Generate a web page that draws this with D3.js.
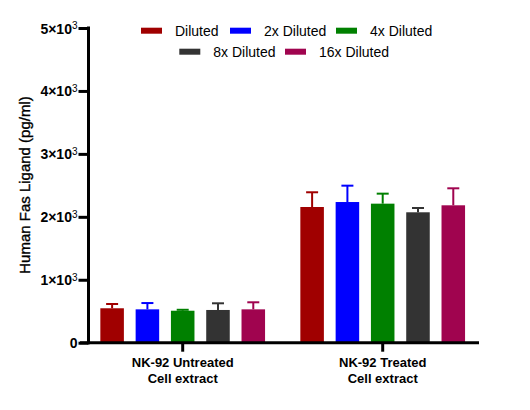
<!DOCTYPE html>
<html lang="en">
<head>
  <meta charset="UTF-8">
  <title>Human Fas Ligand</title>
  <style>
    * { padding: 0; margin: 0; }
    html, body { width: 530px; height: 410px; overflow: hidden; background: #fff; }
    text { font-family: "Liberation Sans", Arial, sans-serif; }
  </style>
</head>
<body>
  <script src="https://cdn.jsdelivr.net/npm/d3@7/dist/d3.min.js"></script>
  <script>
    // data
    const groups = ['NK-92 Untreated|Cell extract', 'NK-92 Treated|Cell extract']
    const series = ['Diluted', '2x Diluted', '4x Diluted', '8x Diluted', '16x Diluted']
    const colors = ['#a00000', '#0000ff', '#008000', '#333333', '#a0044f']
    const means = [
      [547, 530, 508, 520, 530],
      [2156, 2235, 2209, 2072, 2183]
    ]
    const errors = [
      [68, 100, 15, 106, 112],
      [234, 260, 159, 68, 270]
    ]
    const yTicks = [0, 1000, 2000, 3000, 4000, 5000]

    const svg = d3.select('body').append('svg').attr('width', 530).attr('height', 410)

    const y = d3.scaleLinear().domain([0, 5000]).range([342.7, 28])
    const x0 = d3.scaleBand().domain(groups).range([82.7, 482.7])
    const x1 = d3.scaleBand().domain(series).range([0, 176.5]).paddingInner(0.333).paddingOuter(0.167)
    const color = d3.scaleOrdinal().domain(series).range(colors)

    // bars
    const g = svg.append('g')
    groups.forEach((grp, gi) => {
      const left = x0(grp) + x0.bandwidth() / 2 - 88.25
      const bars = series.map((s, si) => ({ s, v: means[gi][si], e: errors[gi][si] }))
      const cell = g.append('g').attr('transform', `translate(${left},0)`)
      // error bars (upper only)
      cell.selectAll('line.err').data(bars).enter().append('line')
        .attr('x1', d => x1(d.s) + x1.bandwidth() / 2)
        .attr('x2', d => x1(d.s) + x1.bandwidth() / 2)
        .attr('y1', d => y(d.v)).attr('y2', d => y(d.v + d.e))
        .attr('stroke', d => color(d.s)).attr('stroke-width', 2)
      cell.selectAll('line.cap').data(bars).enter().append('line')
        .attr('x1', d => x1(d.s) + x1.bandwidth() / 2 - 6)
        .attr('x2', d => x1(d.s) + x1.bandwidth() / 2 + 6)
        .attr('y1', d => y(d.v + d.e)).attr('y2', d => y(d.v + d.e))
        .attr('stroke', d => color(d.s)).attr('stroke-width', 2)
      cell.selectAll('rect').data(bars).enter().append('rect')
        .attr('x', d => x1(d.s)).attr('width', x1.bandwidth())
        .attr('y', d => y(d.v)).attr('height', d => y(0) - y(d.v))
        .attr('fill', d => color(d.s))
    })

    // y axis
    const yAxis = svg.append('g').attr('transform', 'translate(88.5,0)')
      .call(d3.axisLeft(y).tickValues(yTicks).tickSize(10).tickSizeOuter(0).tickFormat(''))
    yAxis.select('.domain').remove()
    yAxis.append('line').attr('x1', 0).attr('x2', 0).attr('y1', y(0) + 1.5).attr('y2', y(5000) - 1.5)
      .attr('stroke', '#000').attr('stroke-width', 3)
    yAxis.selectAll('.tick line').attr('stroke', '#000').attr('stroke-width', 3)
    yAxis.selectAll('.tick').each(function (d) {
      const t = d3.select(this).append('text').attr('x', -11).attr('dy', '0.36em')
        .attr('text-anchor', 'end').attr('fill', '#000')
        .style('font-size', '14px').style('font-weight', 'bold')
      if (d === 0) {
        t.text('0')
      } else {
        t.append('tspan').text(`${d / 1000}\u00d710`)
        t.append('tspan').text('3').attr('dy', '-0.45em').style('font-size', '10px').style('font-weight', 'normal')
      }
    })

    // x axis
    const xAxis = svg.append('g').attr('transform', `translate(0,${y(0)})`)
      .call(d3.axisBottom(x0).tickSize(9).tickSizeOuter(0).tickFormat(''))
    xAxis.select('.domain').remove()
    xAxis.append('line').attr('x1', 80).attr('x2', 479).attr('y1', 0).attr('y2', 0)
      .attr('stroke', '#000').attr('stroke-width', 3)
    xAxis.selectAll('.tick line').attr('stroke', '#000').attr('stroke-width', 3)
    xAxis.selectAll('.tick').each(function (d) {
      const t = d3.select(this).append('text').attr('fill', '#000').attr('text-anchor', 'middle')
        .style('font-size', '13px').style('font-weight', 'bold')
      d.split('|').forEach((line, i) => {
        t.append('tspan').attr('x', 0).attr('y', 24).attr('dy', i * 16.5).text(line)
      })
    })

    // y title
    svg.append('text').attr('transform', 'translate(30,185) rotate(-90)')
      .attr('text-anchor', 'middle').style('font-size', '15px')
      .attr('fill', '#000').attr('stroke', '#000').attr('stroke-width', 0.35)
      .text('Human Fas Ligand (pg/ml)')

    // legend
    const legendPos = [[141, 30.7], [230, 30.7], [336, 30.7], [179.3, 51.7], [285, 51.7]]
    const legend = svg.append('g').selectAll('g').data(series).enter().append('g')
      .attr('transform', (d, i) => `translate(${legendPos[i][0]},${legendPos[i][1]})`)
    legend.append('rect').attr('x', 0).attr('y', -3).attr('width', 21).attr('height', 6)
      .attr('fill', d => color(d))
    legend.append('text').attr('x', 34).attr('dy', '0.36em').style('font-size', '14px')
      .attr('fill', '#000').text(d => d)
  </script>
</body>
</html>
